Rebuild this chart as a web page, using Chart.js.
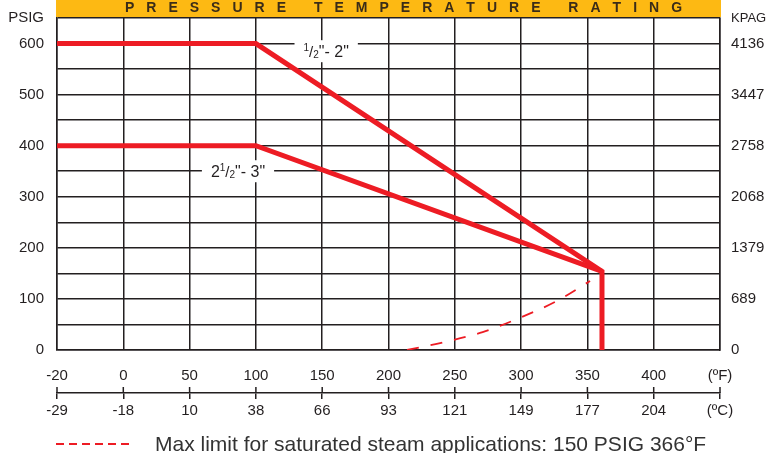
<!DOCTYPE html>
<html>
<head>
<meta charset="utf-8">
<script src="https://cdn.jsdelivr.net/npm/chart.js@4/dist/chart.umd.min.js"></script>
<style>
  html, body { margin: 0; padding: 0; background: #fff; }
  #wrap { width: 769px; height: 453px; position: relative; }
</style>
</head>
<body>
<div id="wrap"><canvas id="chart"></canvas></div>
<script>
// tick positions on the temperature axis (equally spaced in the original)
const fTicks = [-20, 0, 50, 100, 150, 200, 250, 300, 350, 400];
const fLabels = ['-20', '0', '50', '100', '150', '200', '250', '300', '350', '400', '(ºF)'];
const cLabels = ['-29', '-18', '10', '38', '66', '93', '121', '149', '177', '204', '(ºC)'];
const psiLabels = ['0', '100', '200', '300', '400', '500', '600'];
const kpagLabels = ['0', '689', '1379', '2068', '2758', '3447', '4136'];

// 1/2" - 2" rating
const smallF = [-20, 100, 361, 361];
const smallPsi = [600, 600, 154, 0];
// 2 1/2" - 3" rating
const largeF = [-20, 100, 361];
const largePsi = [400, 400, 154];
// saturated steam curve
const steamF = [214, 243, 271, 299, 327, 352];
const steamPsi = [0, 16, 35, 63, 96, 135];

const RED = '#ed1c24';
const INK = '#231f20';
const SANS = "'Liberation Sans', Arial, sans-serif";

// axis position of a temperature: ticks sit at equal spacing
function toAxis(f) {
    for (let i = 0; i < fTicks.length - 1; i++) {
        if (f <= fTicks[i + 1]) return i + (f - fTicks[i]) / (fTicks[i + 1] - fTicks[i]);
    }
    const n = fTicks.length - 1;
    return n + (f - fTicks[n]) / 50;
}

function points(fs, ps) {
    return fs.map((f, i) => ({ x: toAxis(f), y: ps[i] }));
}

function drawParts(ctx, parts, cx, cy) {
    let w = 0;
    parts.forEach(p => { ctx.font = p.s + 'px ' + SANS; w += ctx.measureText(p.t).width; });
    ctx.fillStyle = '#fff';
    ctx.fillRect(cx - w / 2 - 9, cy - 11, w + 18, 22);
    let x = cx - w / 2;
    ctx.fillStyle = INK;
    ctx.textBaseline = 'alphabetic';
    ctx.textAlign = 'left';
    parts.forEach(p => {
        ctx.font = p.s + 'px ' + SANS;
        ctx.fillText(p.t, x, cy + 6 + p.dy);
        x += ctx.measureText(p.t).width;
    });
}

const decorPlugin = {
    id: 'decor',
    beforeDatasetsDraw(chart) {
        const ctx = chart.ctx, xs = chart.scales.x, ys = chart.scales.y;
        ctx.save();
        drawParts(ctx, [
            { t: '1', s: 10, dy: -6 }, { t: '/', s: 15, dy: 0 }, { t: '2', s: 10, dy: 1 }, { t: '"- 2"', s: 16, dy: 0 }
        ], xs.getPixelForValue(4.06), ys.getPixelForValue(585));
        drawParts(ctx, [
            { t: '2', s: 16, dy: 0 }, { t: '1', s: 10, dy: -6 }, { t: '/', s: 15, dy: 0 }, { t: '2', s: 10, dy: 1 }, { t: '"- 3"', s: 16, dy: 0 }
        ], xs.getPixelForValue(2.73), ys.getPixelForValue(350));
        ctx.restore();
    },
    afterDraw(chart) {
        const ctx = chart.ctx, a = chart.chartArea, xc = chart.scales.xc;
        ctx.save();
        // header bar
        ctx.fillStyle = '#fdb913';
        ctx.fillRect(a.left - 1, 0, a.right - a.left + 2, a.top - 1);
        ctx.fillStyle = '#3a2c18';
        ctx.font = 'bold 14px ' + SANS;
        ctx.textBaseline = 'middle';
        ctx.textAlign = 'left';
        let hx = 125;
        for (const ch of 'PRESSURE TEMPERATURE RATING') {
            ctx.fillText(ch, hx, 8.5);
            hx += ctx.measureText(ch).width + 12;
        }
        // unit titles
        ctx.fillStyle = INK;
        ctx.font = '15px ' + SANS;
        ctx.textAlign = 'right';
        ctx.fillText('PSIG', a.left - 13, a.top);
        ctx.textAlign = 'left';
        ctx.font = '13px ' + SANS;
        ctx.fillText('KPAG', a.right + 11, a.top);
        // upper half of the celsius tick marks
        ctx.strokeStyle = INK;
        ctx.lineWidth = 1.5;
        for (let i = 0; i <= 10; i++) {
            const px = xc.getPixelForValue(i);
            ctx.beginPath();
            ctx.moveTo(px, xc.top - 6);
            ctx.lineTo(px, xc.top);
            ctx.stroke();
        }
        // legend
        const steam = chart.data.datasets[2];
        ctx.strokeStyle = steam.borderColor;
        ctx.lineWidth = 2;
        ctx.setLineDash([8, 5]);
        ctx.beginPath();
        ctx.moveTo(a.left - 1, 444);
        ctx.lineTo(a.left + 73, 444);
        ctx.stroke();
        ctx.setLineDash([]);
        ctx.fillStyle = '#333';
        ctx.font = '21px ' + SANS;
        ctx.textBaseline = 'alphabetic';
        ctx.fillText(steam.label, 155, 451);
        ctx.restore();
    }
};

const gridOpts = { color: INK, lineWidth: 1.5, drawTicks: false };
const tickFont = { family: SANS, size: 15 };

new Chart(document.getElementById('chart'), {
    type: 'line',
    data: {
        datasets: [
            { label: '1/2" - 2"', data: points(smallF, smallPsi), borderColor: RED, borderWidth: 5, pointRadius: 0, tension: 0, borderJoinStyle: 'miter' },
            { label: '2 1/2" - 3"', data: points(largeF, largePsi), borderColor: RED, borderWidth: 5, pointRadius: 0, tension: 0, borderJoinStyle: 'miter' },
            { label: 'Max limit for saturated steam applications: 150 PSIG 366°F', data: points(steamF, steamPsi), borderColor: RED, borderWidth: 1.8, borderDash: [12, 12], pointRadius: 0, cubicInterpolationMode: 'monotone' }
        ]
    },
    options: {
        responsive: true,
        maintainAspectRatio: false,
        animation: false,
        layout: { padding: { top: 18, bottom: 30, left: 0, right: 0 } },
        plugins: { legend: { display: false }, tooltip: { enabled: false } },
        scales: {
            x: {
                type: 'linear', position: 'bottom', min: 0, max: 10,
                ticks: { stepSize: 1, autoSkip: false, maxRotation: 0, padding: 17, color: INK, font: tickFont, callback: v => fLabels[v] },
                grid: gridOpts,
                border: { display: true, color: INK, width: 1.5 },
                afterFit: s => { s.height = 43; s.paddingLeft = 0; s.paddingRight = 0; }
            },
            xc: {
                type: 'linear', position: 'bottom', min: 0, max: 10,
                ticks: { stepSize: 1, autoSkip: false, maxRotation: 0, padding: 3, color: INK, font: tickFont, callback: v => cLabels[v] },
                grid: { drawOnChartArea: false, drawTicks: true, tickLength: 6, color: INK, lineWidth: 1.5 },
                border: { display: true, color: INK, width: 1.5 },
                afterFit: s => { s.height = 30; s.paddingLeft = 0; s.paddingRight = 0; }
            },
            y: {
                min: 0, max: 650,
                ticks: { stepSize: 50, autoSkip: false, padding: 13, color: INK, font: tickFont, callback: v => v % 100 === 0 ? psiLabels[v / 100] : '' },
                grid: gridOpts,
                border: { display: true, color: INK, width: 1.5 },
                afterFit: s => { s.width = 57; s.paddingTop = 0; s.paddingBottom = 0; }
            },
            y2: {
                position: 'right', min: 0, max: 650,
                ticks: { stepSize: 50, autoSkip: false, padding: 11, color: INK, font: tickFont, callback: v => v % 100 === 0 ? kpagLabels[v / 100] : '' },
                grid: { drawOnChartArea: false, drawTicks: false },
                border: { display: true, color: INK, width: 1.5 },
                afterFit: s => { s.width = 49; s.paddingTop = 0; s.paddingBottom = 0; }
            }
        }
    },
    plugins: [decorPlugin]
});
</script>
</body>
</html>
